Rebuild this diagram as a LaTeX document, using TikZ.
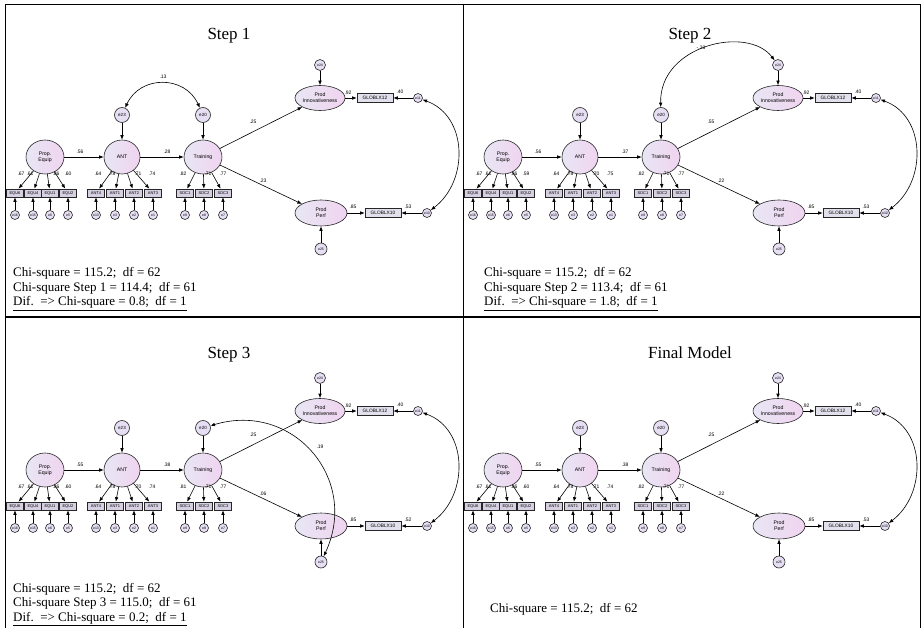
\documentclass[tikz,border=0pt]{standalone}
\usepackage{fontspec}
\setmainfont{Liberation Serif}
\newfontfamily\amsans{Liberation Sans}
\usetikzlibrary{shapes.geometric,arrows.meta,calc}
\definecolor{latL}{RGB}{232,230,244}
\definecolor{latR}{RGB}{240,212,240}
\definecolor{obsF}{RGB}{214,208,226}
\definecolor{gobsF}{RGB}{226,224,236}
\definecolor{errF}{RGB}{230,222,242}
\tikzset{
  lat/.style={ellipse, draw=black!85, line width=0.6pt, left color=latL, right color=latR,
    inner sep=0pt, font=\amsans\fontsize{5.2}{6}\selectfont, align=center},
  err/.style={circle, draw=black!85, line width=0.6pt, fill=errF, inner sep=0pt,
    minimum size=9pt, font=\amsans\fontsize{3.5}{4}\selectfont},
  errL/.style={err, font=\amsans\fontsize{4.5}{5}\selectfont},
  obs/.style={rectangle, draw=black!85, line width=0.6pt, fill=obsF, inner sep=0pt,
    minimum width=17pt, minimum height=8pt, font=\amsans\fontsize{4}{4}\selectfont},
  gobs/.style={obs, fill=gobsF, minimum width=36pt, minimum height=9pt,
    font=\amsans\fontsize{4.8}{5}\selectfont},
  lab/.style={font=\amsans\fontsize{5}{5}\selectfont, inner sep=0pt},
  arr/.style={-{Latex[length=4.5pt,width=3.6pt]}, line width=0.6pt},
  darr/.style={{Latex[length=4.5pt,width=3.6pt]}-{Latex[length=4.5pt,width=3.6pt]}, line width=0.6pt},
  chi/.style={font=\fontsize{13}{15}\selectfont, anchor=base west, inner sep=0pt},
  ttl/.style={font=\fontsize{17}{20}\selectfont, anchor=base, inner sep=0pt},
}
\newcommand\eqlabs[4]{\node[lab] at (21,174){#1};\node[lab] at (30,174){#2};\node[lab] at (56,174){#3};\node[lab] at (68,174){#4};}
\newcommand\antlabs[4]{\node[lab] at (98,174){#1};\node[lab] at (112,174){#2};\node[lab] at (138,174){#3};\node[lab] at (152,174){#4};}
\newcommand\sdclabs[3]{\node[lab] at (183,174){#1};\node[lab] at (208,174){#2};\node[lab] at (223,174){#3};}
\newcommand\drawsem[8]{%
  \node[lat, minimum width=38pt, minimum height=34pt] (PE) at (45,157) {Prop.\\Equip};
  \node[lat, minimum width=36pt, minimum height=34pt] (ANT) at (122,157) {ANT};
  \node[lat, minimum width=38pt, minimum height=34pt] (TR) at (203,157) {Training};
  \node[errL, minimum size=15pt] (e23) at (122,115) {e23};
  \node[errL, minimum size=15pt] (e20) at (203,115) {e20};
  \node[lat, minimum width=50pt, minimum height=25pt] (PI) at (320,98) {Prod\\Innovativeness};
  \node[err, minimum size=11pt] (e24) at (320,65) {e24};
  \node[gobs] (G12) at (375,98) {GLOBLX12};
  \node[err] (e11) at (418,98) {e11};
  \node[lat, minimum width=52pt, minimum height=26pt] (PP) at (321,213) {Prod\\Perf};
  \node[gobs] (G10) at (383,213) {GLOBLX10};
  \node[err] (e10) at (427,213) {e10};
  \node[err, minimum size=12pt] (e25) at (321,249) {e25};
  \foreach \nm/\xx/\ee in {EQU6/15/e16, EQU4/33/e15, EQU1/50/e6, EQU2/68/e5}{
    \node[obs] (\nm) at (\xx,193) {\nm};
    \node[err] (\ee) at (\xx,215) {\ee};
    \draw[arr] (PE) -- (\nm);
    \draw[arr] (\ee) -- (\nm);
  }
  \foreach \nm/\xx/\ee in {ANT4/96/e13, ANT1/115/e3, ANT2/134/e2, ANT3/153/e1}{
    \node[obs] (\nm) at (\xx,193) {\nm};
    \node[err] (\ee) at (\xx,215) {\ee};
    \draw[arr] (ANT) -- (\nm);
    \draw[arr] (\ee) -- (\nm);
  }
  \foreach \nm/\xx/\ee in {SDC1/185/e9, SDC2/204/e8, SDC3/223/e7}{
    \node[obs] (\nm) at (\xx,193) {\nm};
    \node[err] (\ee) at (\xx,215) {\ee};
    \draw[arr] (TR) -- (\nm);
    \draw[arr] (\ee) -- (\nm);
  }
  \draw[arr] (PE) -- (ANT);
  \draw[arr] (ANT) -- (TR);
  \draw[arr] (TR) -- (PI);
  \draw[arr] (TR) -- (PP);
  \draw[arr] (e23) -- (ANT);
  \draw[arr] (e20) -- (TR);
  \draw[arr] (e24) -- (PI);
  \draw[arr] (e25) -- (PP);
  \draw[arr] (PI) -- (G12);
  \draw[arr] (e11) -- (G12);
  \draw[arr] (PP) -- (G10);
  \draw[arr] (e10) -- (G10);
  \draw[darr] (e10) .. controls ($(e10)+(42,-32)$) and ($(e11)+(50,18)$) .. (e11);
  \node[lab] at (80,152) {#1};
  \node[lab] at (167,152) {#2};
  \node[lab] at (253,122) {#3};
  \node[lab] at (263,181) {#4};
  \eqlabs#5
  \antlabs#6
  \sdclabs#7
  \node[lab] at (348,93) {.92};
  \node[lab] at (400,92) {.40};
  \node[lab] at (353,207) {.85};
  \node[lab] at (408,207) {#8};
}
\begin{document}
\begin{tikzpicture}[x=1pt, y=-1pt]
\useasboundingbox (0,0) rectangle (921,628);
% frame
\draw[line width=0.9pt] (5,4) -- (920,4);
\draw[line width=0.9pt] (5,4) -- (5,628);
\draw[line width=0.9pt] (920,4) -- (920,628);
\draw[line width=0.9pt] (463,4) -- (463,628);
\draw[line width=1.6pt] (5,317) -- (920,317);
% titles
\node[ttl] (t1) at (229,40) {Step 1};
\node[ttl] (t2) at (690,40) {Step 2};
\node[ttl] (t3) at (229,358) {Step 3};
\node[ttl] (t4) at (690,358) {Final Model};
% Step 1
\begin{scope}[name prefix=a-]
  \drawsem{.56}{.28}{.25}{.23}{{.67}{.61}{.86}{.60}}{{.64}{.78}{.71}{.74}}{{.82}{.71}{.77}}{.53}
  \draw[darr] (e23) .. controls ($(e23)+(18,-40)$) and ($(e20)+(-18,-40)$) .. (e20);
  \node[lab] at (163,77) {.13};
\end{scope}
\node[chi] (c1a) at (13,277) {Chi-square = 115.2;\ \ df = 62};
\node[chi] (c1b) at (13,291.5) {Chi-square Step 1 = 114.4;\ \ df = 61};
\node[chi] (c1c) at (13,306) {\underline{Dif.\ \ => Chi-square = 0.8;\ \ df = 1}};
% Step 2
\begin{scope}[shift={(458,0)}, name prefix=b-]
  \drawsem{.56}{.37}{.55}{.22}{{.67}{.61}{.86}{.59}}{{.64}{.78}{.70}{.75}}{{.82}{.71}{.77}}{.53}
  \draw[darr] (e20) .. controls ($(e20)+(-2,-70)$) and ($(e24)+(-30,-40)$) .. (e24);
  \node[lab] at (243,47.5) {-.33};
\end{scope}
\node[chi] (c2a) at (484,277) {Chi-square = 115.2;\ \ df = 62};
\node[chi] (c2b) at (484,291.5) {Chi-square Step 2 = 113.4;\ \ df = 61};
\node[chi] (c2c) at (484,306) {\underline{Dif.\ \ => Chi-square = 1.8;\ \ df = 1}};
% Step 3
\begin{scope}[shift={(0,313)}, name prefix=c-]
  \drawsem{.55}{.38}{.25}{.06}{{.67}{.61}{.86}{.60}}{{.64}{.78}{.70}{.74}}{{.81}{.71}{.77}}{.52}
  \draw[darr] (e20) .. controls ($(e20)+(90,-27)$) and ($(e25)+(39,-83)$) .. (e25);
  \node[lab] at (320,134) {.19};
\end{scope}
\node[chi] (c3a) at (13,592) {Chi-square = 115.2;\ \ df = 62};
\node[chi] (c3b) at (13,606.5) {Chi-square Step 3 = 115.0;\ \ df = 61};
\node[chi] (c3c) at (13,621) {\underline{Dif.\ \ => Chi-square = 0.2;\ \ df = 1}};
% Final model
\begin{scope}[shift={(458,313)}, name prefix=d-]
  \drawsem{.55}{.38}{.25}{.22}{{.67}{.61}{.86}{.60}}{{.64}{.78}{.71}{.74}}{{.82}{.71}{.77}}{.53}
\end{scope}
\node[chi] (c4a) at (490,612) {Chi-square = 115.2;\ \ df = 62};
\end{tikzpicture}
\end{document}
